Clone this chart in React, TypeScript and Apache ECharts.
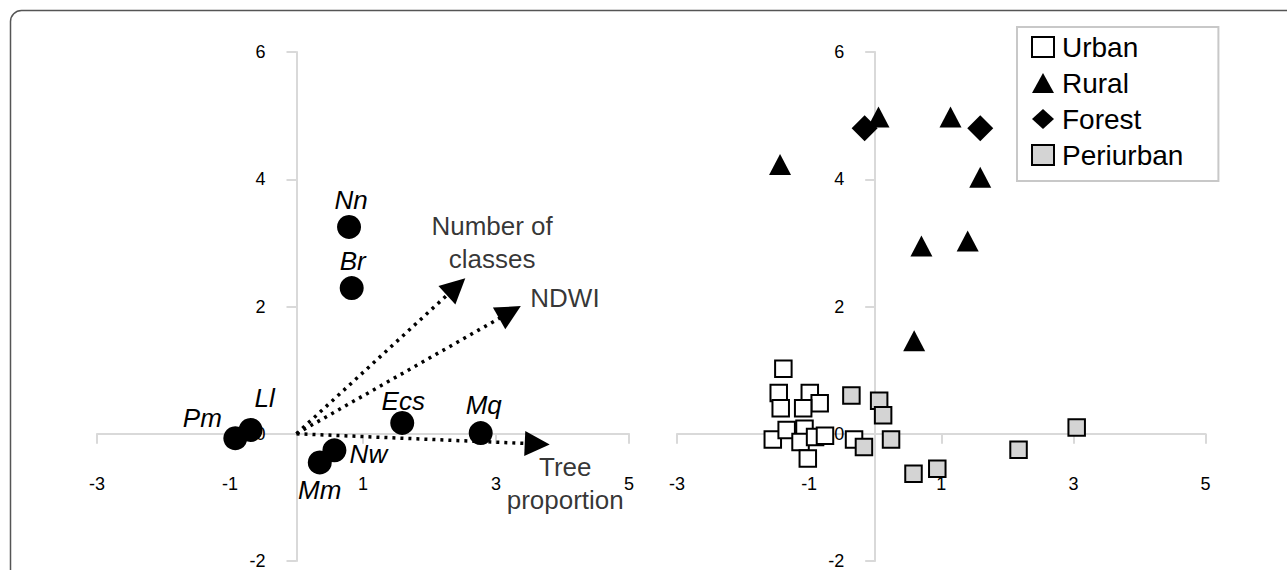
import React, { useEffect, useRef } from 'react';
import * as echarts from 'echarts';

// ---- Left panel: species scores ----
const speciesNames = ['Nn', 'Br', 'Ll', 'Pm', 'Mm', 'Nw', 'Ecs', 'Mq'];
const speciesX = [0.79, 0.83, -0.69, -0.92, 0.35, 0.57, 1.59, 2.77];
const speciesY = [3.25, 2.29, 0.06, -0.07, -0.45, -0.26, 0.17, 0.01];

// ---- Left panel: environmental vectors ----
const vectorNames = ['Number of\nclasses', 'NDWI', 'Tree\nproportion'];
const vectorX = [2.4, 3.21, 3.62];
const vectorY = [2.31, 1.91, -0.16];

// ---- Right panel: site scores ----
const urbanX = [-1.39, -1.46, -0.99, -0.84, -1.43, -1.09, -1.55, -1.34, -1.07, -1.13, -0.91, -0.76, -1.02, -0.32];
const urbanY = [1.02, 0.64, 0.64, 0.48, 0.4, 0.4, -0.09, 0.06, 0.08, -0.13, -0.05, -0.03, -0.39, -0.09];
const ruralX = [-1.44, 0.05, 1.14, 1.59, 0.7, 1.4, 0.59];
const ruralY = [4.23, 4.98, 4.98, 4.03, 2.95, 3.03, 1.46];
const forestX = [-0.16, 1.59];
const forestY = [4.8, 4.8];
const periX = [-0.36, 0.06, 0.12, 0.24, -0.17, 0.58, 0.94, 2.17, 3.05];
const periY = [0.6, 0.52, 0.29, -0.09, -0.21, -0.63, -0.55, -0.25, 0.1];

const groupNames = ['Urban', 'Rural', 'Forest', 'Periurban'];

// ---- Axes ----
const xTickValues = [-3, -1, 1, 3, 5];
const xMin = -3;
const xMax = 5;
const yMin = -2;
const yMax = 6;
const yStep = 2;

// ---- Layout / label placement (styling, px) ----
const gridTop = 52;
const gridH = 509;
const grids = [
  { left: 97, width: 532 },
  { left: 677, width: 528.5 },
];
const speciesLabelOffsets = [[2, -27], [1, -27], [14, -32], [-33, -20], [0, 28], [34, 4], [1, -22], [3, -28]];
const vectorLabelOffsets = [[36, -44], [55, -14], [28, 40]];

const FONT = "'Liberation Sans', Arial, sans-serif";
const AXIS_GRAY = '#d9d9d9';

function zip(xs: number[], ys: number[]) {
  return xs.map((x, i) => [x, ys[i]]);
}

// place the axes through the origin (x axis at y=0, y axis at x=0)
const xAxisOffset = -gridH * (0 - yMin) / (yMax - yMin);

function makeXAxis(gridIndex: number) {
  return {
    gridIndex,
    type: 'value',
    min: xMin,
    max: xMax,
    position: 'bottom',
    offset: xAxisOffset,
    axisLine: { onZero: false, lineStyle: { color: AXIS_GRAY, width: 2 } },
    axisTick: { show: true, length: 10, customValues: xTickValues, lineStyle: { color: AXIS_GRAY, width: 2 } },
    axisLabel: { customValues: xTickValues, margin: 41, fontSize: 18, color: '#000', fontFamily: FONT },
    splitLine: { show: false },
  };
}

function makeYAxis(gridIndex: number) {
  const yAxisOffset = -grids[gridIndex].width * (0 - xMin) / (xMax - xMin);
  return {
    gridIndex,
    type: 'value',
    min: yMin,
    max: yMax,
    interval: yStep,
    position: 'left',
    offset: yAxisOffset,
    axisLine: { onZero: false, lineStyle: { color: AXIS_GRAY, width: 2 } },
    axisTick: { show: true, length: 10, lineStyle: { color: AXIS_GRAY, width: 2 } },
    axisLabel: { margin: 31, fontSize: 18, color: '#000', fontFamily: FONT },
    splitLine: { show: false },
  };
}

export default function App() {
  const ref = useRef<HTMLDivElement>(null);
  useEffect(() => {
    if (!ref.current) return;
    const chart = echarts.init(ref.current, null, { renderer: 'svg' });
    const option: any = {
      animation: false,
      backgroundColor: '#fff',
      graphic: [
        {
          type: 'rect',
          shape: { x: 10.5, y: 10.5, width: 1320, height: 620, r: 11 },
          style: { fill: 'none', stroke: '#555', lineWidth: 1.5 },
          silent: true,
          z: 100,
        },
      ],
      grid: grids.map((g) => ({
        left: g.left,
        top: gridTop,
        width: g.width,
        height: gridH,
        containLabel: false,
        outerBoundsMode: 'none',
      })),
      xAxis: [makeXAxis(0), makeXAxis(1)],
      yAxis: [makeYAxis(0), makeYAxis(1)],
      legend: {
        data: groupNames,
        orient: 'vertical',
        left: 1017,
        top: 27,
        padding: [6, 35, 12, 14],
        itemGap: 8,
        itemWidth: 22,
        itemHeight: 20,
        borderColor: '#c8c8c8',
        borderWidth: 2,
        borderRadius: 0,
        backgroundColor: '#fff',
        textStyle: { fontSize: 28, color: '#000', fontFamily: FONT, padding: [0, 0, 0, 3] },
      },
      series: [
        {
          type: 'lines',
          coordinateSystem: 'cartesian2d',
          xAxisIndex: 0,
          yAxisIndex: 0,
          z: 1,
          data: vectorX.map((x, i) => ({ coords: [[0, 0], [x, vectorY[i]]] })),
          lineStyle: { color: '#000', width: 3.5, type: [3, 5], opacity: 1, curveness: 0 },
          symbol: ['none', 'triangle'],
          symbolSize: [20, 25],
          itemStyle: { color: '#000' },
        },
        {
          type: 'scatter',
          name: 'vectorLabels',
          xAxisIndex: 0,
          yAxisIndex: 0,
          symbolSize: 0,
          z: 3,
          data: vectorX.map((x, i) => ({
            value: [x, vectorY[i]],
            name: vectorNames[i],
            label: { offset: vectorLabelOffsets[i] },
          })),
          label: {
            show: true,
            position: 'inside',
            formatter: '{b}',
            color: '#000',
            fontSize: 26,
            lineHeight: 33,
            align: 'center',
            fontFamily: FONT,
          },
        },
        {
          type: 'scatter',
          name: 'species',
          xAxisIndex: 0,
          yAxisIndex: 0,
          symbol: 'circle',
          symbolSize: 24,
          z: 4,
          itemStyle: { color: '#000', opacity: 1 },
          data: speciesX.map((x, i) => ({
            value: [x, speciesY[i]],
            name: speciesNames[i],
            label: { offset: speciesLabelOffsets[i] },
          })),
          label: {
            show: true,
            position: 'inside',
            formatter: '{b}',
            color: '#000',
            fontSize: 26,
            fontStyle: 'italic',
            fontFamily: FONT,
          },
        },
        {
          type: 'scatter',
          name: 'Urban',
          xAxisIndex: 1,
          yAxisIndex: 1,
          symbol: 'rect',
          symbolSize: 16.5,
          itemStyle: { color: '#fff', borderColor: '#000', borderWidth: 2, opacity: 1 },
          data: zip(urbanX, urbanY),
        },
        {
          type: 'scatter',
          name: 'Rural',
          xAxisIndex: 1,
          yAxisIndex: 1,
          symbol: 'triangle',
          symbolSize: [22, 21],
          itemStyle: { color: '#000', opacity: 1 },
          data: zip(ruralX, ruralY),
        },
        {
          type: 'scatter',
          name: 'Forest',
          xAxisIndex: 1,
          yAxisIndex: 1,
          symbol: 'diamond',
          symbolSize: [26, 26],
          itemStyle: { color: '#000', opacity: 1 },
          data: zip(forestX, forestY),
        },
        {
          type: 'scatter',
          name: 'Periurban',
          xAxisIndex: 1,
          yAxisIndex: 1,
          symbol: 'rect',
          symbolSize: 16.5,
          itemStyle: { color: '#d4d4d4', borderColor: '#000', borderWidth: 2, opacity: 1 },
          data: zip(periX, periY),
        },
      ],
    };
    chart.setOption(option);
    return () => chart.dispose();
  }, []);
  return (
    <div
      ref={ref}
      style={{ position: 'absolute', left: 0, top: 0, width: 1287, height: 570, background: '#fff' }}
    />
  );
}
